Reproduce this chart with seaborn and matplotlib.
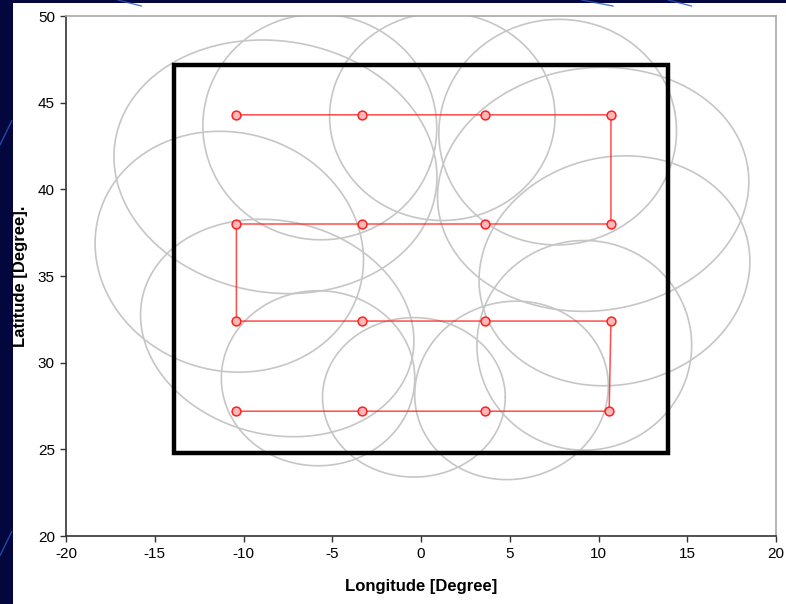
import numpy as np
import pandas as pd
import matplotlib
matplotlib.use("Agg")
import matplotlib.pyplot as plt
from matplotlib.patches import Rectangle
import seaborn as sns

# Beam pointing track (snake scan), degrees
track_lon = [-10.4, -3.3, 3.6, 10.7, 10.7, 3.6, -3.3, -10.4, -10.4, -3.3, 3.6, 10.7, 10.6, 3.6, -3.3, -10.4]
track_lat = [44.3, 44.3, 44.3, 44.3, 38.0, 38.0, 38.0, 38.0, 32.4, 32.4, 32.4, 32.4, 27.2, 27.2, 27.2, 27.2]

# Beam footprints: centre lon, centre lat, width, height (deg), tilt (deg)
fp_lon = [-8.2, -5.7, 1.2, 7.7, 9.7, -10.8, 10.9, -8.1, -5.8, -0.4, 5.1, 9.2]
fp_lat = [41.3, 43.6, 44.2, 43.3, 40.0, 36.4, 35.3, 32.0, 29.1, 28.0, 28.4, 31.0]
fp_w = [18.3, 13.2, 12.7, 13.4, 17.6, 15.3, 15.4, 15.6, 10.9, 10.3, 11.0, 12.1]
fp_h = [14.5, 13.0, 12.0, 13.0, 14.0, 13.7, 13.1, 12.3, 10.1, 9.2, 10.2, 12.1]
fp_tilt = [-10, -20, 0, 10, 8, -20, 15, -15, 0, 0, 20, 20]

# Coverage region
region_lon = [-13.9, 13.9]
region_lat = [24.8, 47.2]

sns.set_theme(style="white")
plt.rcParams["font.family"] = ["Liberation Sans", "DejaVu Sans"]
plt.rcParams["axes.unicode_minus"] = False

fig = plt.figure(figsize=(7.86, 6.04), dpi=100)
fig.patch.set_facecolor("#03073d")
# slide background streaks
for x0, y0, x1, y1 in [(0.0, 0.76, 0.015, 0.80), (0.0, 0.08, 0.015, 0.12),
                       (0.15, 1.0, 0.18, 0.99), (0.74, 1.0, 0.78, 0.99), (0.85, 1.0, 0.88, 0.99)]:
    fig.add_artist(plt.Line2D([x0, x1], [y0, y1], color="#2a55c8", lw=1.0, alpha=0.8))
fig.add_artist(Rectangle((13 / 786, 0), 1 - 13 / 786, 1 - 3 / 604, transform=fig.transFigure,
                         facecolor="white", edgecolor="none", zorder=0))

ax = fig.add_axes([66 / 786, 1 - 536 / 604, 710 / 786, 520 / 604])
ax.set_facecolor("white")

t = np.linspace(0, 2 * np.pi, 200)
for cx, cy, w, h, a in zip(fp_lon, fp_lat, fp_w, fp_h, fp_tilt):
    th = np.deg2rad(a)
    ex = cx + 0.5 * w * np.cos(t) * np.cos(th) - 0.5 * h * np.sin(t) * np.sin(th)
    ey = cy + 0.5 * w * np.cos(t) * np.sin(th) + 0.5 * h * np.sin(t) * np.cos(th)
    ax.plot(ex, ey, color="#c6c6c6", lw=1.2, zorder=1)

ax.add_patch(Rectangle((region_lon[0], region_lat[0]), region_lon[1] - region_lon[0],
                       region_lat[1] - region_lat[0], fill=False, edgecolor="black",
                       lw=3.2, zorder=2))

track = pd.DataFrame({"lon": track_lon, "lat": track_lat})
sns.lineplot(data=track, x="lon", y="lat", sort=False, estimator=None, color="#ff2020",
             lw=1.1, alpha=0.8, ax=ax, zorder=3)
sns.scatterplot(data=track, x="lon", y="lat", marker="o", s=40, color="#ffb8b8",
                edgecolor="#ff2020", linewidth=1.1, ax=ax, zorder=4)

ax.set_xlim(-20, 20)
ax.set_ylim(20, 50)
ax.set_xticks(np.arange(-20, 21, 5))
ax.set_yticks(np.arange(20, 51, 5))
ax.tick_params(axis="both", which="major", direction="out", length=4, width=1,
               color="#333333", labelsize=11, labelcolor="black", pad=4,
               bottom=True, left=True)
for side in ["left", "bottom"]:
    ax.spines[side].set_color("#333333")
    ax.spines[side].set_linewidth(1.2)
for side in ["top", "right"]:
    ax.spines[side].set_color("#a8a8a8")
    ax.spines[side].set_linewidth(1.2)

ax.set_xlabel("Longitude [Degree]", fontsize=12, fontweight="bold", color="black")
ax.set_ylabel("Latitude [Degree].", fontsize=12, fontweight="bold", color="black")
ax.xaxis.set_label_coords(0.5, (536 - 579) / 520)
ax.yaxis.set_label_coords((28 - 66) / 710, 0.5)

fig.savefig("out.png", dpi=100, facecolor=fig.get_facecolor())
